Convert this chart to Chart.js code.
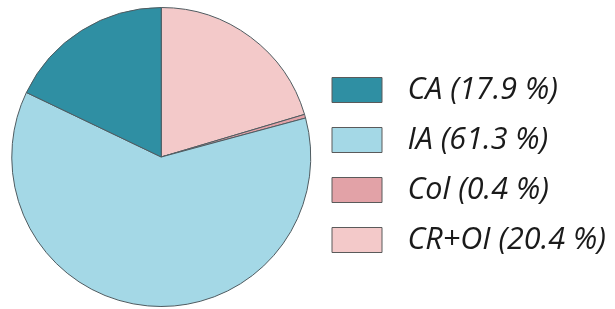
<!DOCTYPE html>
<html>
<head>
<meta charset="utf-8">
<script src="https://cdn.jsdelivr.net/npm/chart.js@4"></script>
<style>
  html, body { margin: 0; padding: 0; background: #ffffff; }
  #wrap { width: 615px; height: 309px; }
</style>
</head>
<body>
<div id="wrap"><canvas id="c" width="615" height="309"></canvas></div>
<script>
const categories = ["CA", "IA", "Col", "CR+OI"];
const percentages = [17.9, 61.3, 0.4, 20.4];
const sliceColors = ["#2f8fa3", "#a4d8e6", "#e2a2a7", "#f3c9c9"];

// Slices run counter-clockwise from 12 o'clock in the reference, so the
// dataset is fed in reverse order and the legend is reversed back.
const revLabels = categories.slice().reverse();
const revValues = percentages.slice().reverse();
const revColors = sliceColors.slice().reverse();

new Chart(document.getElementById("c"), {
  type: "pie",
  data: {
    labels: revLabels,
    datasets: [{
      data: revValues,
      backgroundColor: revColors,
      borderColor: "#4f5b60",
      borderWidth: 1
    }]
  },
  options: {
    responsive: false,
    animation: false,
    layout: { padding: { left: 10, top: 7, bottom: 2, right: 0 } },
    plugins: {
      tooltip: { enabled: false },
      legend: {
        position: "right",
        reverse: true,
        maxWidth: 302.5,
        title: { display: true, text: "", padding: 0, font: { size: 16, lineHeight: 1 } },
        labels: {
          boxWidth: 50,
          boxHeight: 25,
          padding: 19.5,
          color: "#1a1a1a",
          font: { family: "'Open Sans'", style: "italic", size: 30.5 },
          generateLabels(chart) {
            const ds = chart.data.datasets[0];
            return chart.data.labels.map((lab, i) => ({
              text: "\u2004" + lab + " (" + ds.data[i] + " %)",
              fillStyle: ds.backgroundColor[i],
              strokeStyle: "#5a5a5a",
              lineWidth: 1,
              hidden: false,
              index: i,
              fontColor: "#1a1a1a"
            }));
          }
        }
      }
    }
  }
});
</script>
</body>
</html>
